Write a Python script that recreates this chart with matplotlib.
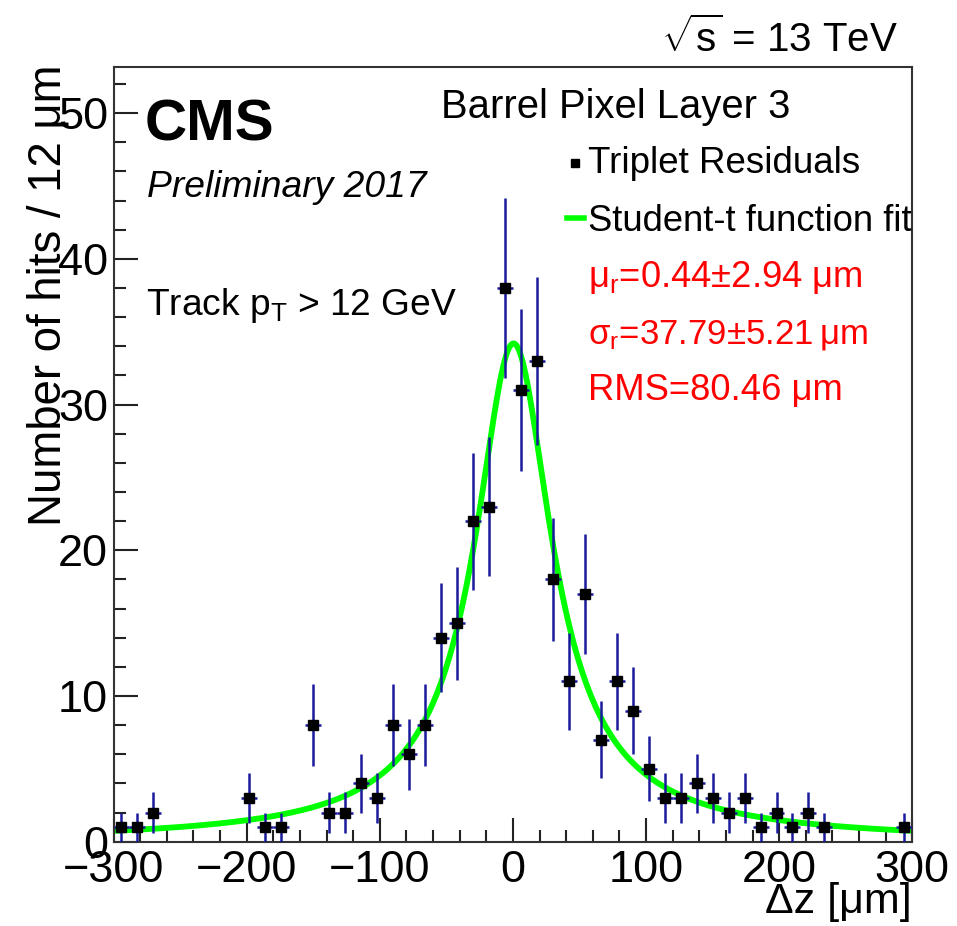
import numpy as np
import matplotlib
matplotlib.use("Agg")
import matplotlib.pyplot as plt
from matplotlib.ticker import MultipleLocator

# bin centres (12 um bins, empty bins not drawn) and hit counts
z_centers = [-294, -282, -270, -198, -186, -174, -150, -138, -126, -114,
             -102, -90, -78, -66, -54, -42, -30, -18, -6, 6,
             18, 30, 42, 54, 66, 78, 90, 102, 114, 126,
             138, 150, 162, 174, 186, 198, 210, 222, 234, 294]
counts = [1, 1, 2, 3, 1, 1, 8, 2, 2, 4,
          3, 8, 6, 8, 14, 15, 22, 23, 38, 31,
          33, 18, 11, 17, 7, 11, 9, 5, 3, 3,
          4, 3, 2, 3, 1, 2, 1, 2, 1, 1]
bin_width = 12

# student-t fit parameters
fit_norm = 34.2
fit_mu = 0.44
fit_scale = 38.5
fit_nu = 0.72

plt.rcParams["font.family"] = ["Liberation Sans", "DejaVu Sans"]
plt.rcParams["mathtext.fontset"] = "custom"
plt.rcParams["mathtext.rm"] = "Liberation Sans"
plt.rcParams["mathtext.it"] = "Liberation Sans:italic"
plt.rcParams["mathtext.bf"] = "Liberation Sans:bold"

fig = plt.figure(figsize=(9.57, 9.26), dpi=100)
ax = fig.add_axes([0.1186, 0.0910, 0.8347, 0.8363])

z = np.array(z_centers, dtype=float)
n = np.array(counts, dtype=float)

xs = np.linspace(-300, 300, 1201)
fit = fit_norm * (1 + ((xs - fit_mu) / fit_scale) ** 2 / fit_nu) ** (-(fit_nu + 1) / 2)
ax.plot(xs, fit, color="#00ff00", lw=4.2, zorder=2)

ax.errorbar(z, n, yerr=np.sqrt(n), xerr=bin_width / 2, fmt="s", color="black",
            ms=7, ecolor="#1a1a9c", elinewidth=1.8, capsize=0, zorder=3)

ax.set_xlim(-300, 300)
ax.set_ylim(0, 53.15)
ax.xaxis.set_major_locator(MultipleLocator(100))
ax.xaxis.set_minor_locator(MultipleLocator(20))
ax.yaxis.set_major_locator(MultipleLocator(10))
ax.yaxis.set_minor_locator(MultipleLocator(2))
ax.tick_params(which="both", direction="in", top=False, right=False, width=1.5, color="#222222")
ax.tick_params(which="major", length=17)
ax.tick_params(which="minor", length=8.5)
ax.tick_params(axis="x", labelsize=32.5, pad=6)
ax.tick_params(axis="y", labelsize=32.5, pad=4)
for sp in ax.spines.values():
    sp.set_linewidth(1.5)
    sp.set_color("#333333")

T = ax.transAxes
ax.text(0.0394, 0.906, "CMS", transform=T, fontsize=42, fontweight="bold", va="baseline")
ax.text(0.042, 0.8324, "Preliminary 2017", transform=T, fontsize=26.8, style="italic", va="baseline")
ax.text(0.0407, 0.680, r"Track p$_{\mathregular{T}}$ > 12 GeV", transform=T, fontsize=26.7, va="baseline")
ax.text(0.4096, 0.934, "Barrel Pixel Layer 3", transform=T, fontsize=28.8, va="baseline")

ax.plot([0.578], [0.877], "s", color="black", ms=6, transform=T, clip_on=False)
ax.text(0.594, 0.863, "Triplet Residuals", transform=T, fontsize=26.5, va="baseline")
ax.plot([0.5674, 0.5891], [0.805, 0.805], color="#00ff00", lw=4, transform=T, clip_on=False)
ax.text(0.594, 0.789, "Student-t function fit", transform=T, fontsize=26.2, va="baseline")

red = "#ff0000"
ax.text(0.594, 0.7167, "\u03bc$_{\\mathregular{r}}$=0.44\u00b12.94 \u03bcm", transform=T, fontsize=26.2, color=red, va="baseline")
ax.text(0.594, 0.6436, "\u03c3$_{\\mathregular{r}}$=37.79\u00b15.21\u2009\u03bcm", transform=T, fontsize=25, color=red, va="baseline")
ax.text(0.594, 0.5704, "RMS=80.46 \u03bcm", transform=T, fontsize=26.2, color=red, va="baseline")

fig.text(898 / 957, 1 - 52 / 926, r"$\sqrt{\mathregular{s}}$ = 13 TeV", fontsize=29, ha="right", va="baseline")
fig.text(912 / 957, 1 - 913 / 926, "\u0394z [\u03bcm]", fontsize=31, ha="right", va="baseline")
fig.text(61 / 957, 1 - 65 / 926, "Number of hits / 12 \u03bcm", fontsize=32.8, rotation=90,
         rotation_mode="anchor", ha="right", va="baseline")

fig.savefig("out.png", dpi=100)
